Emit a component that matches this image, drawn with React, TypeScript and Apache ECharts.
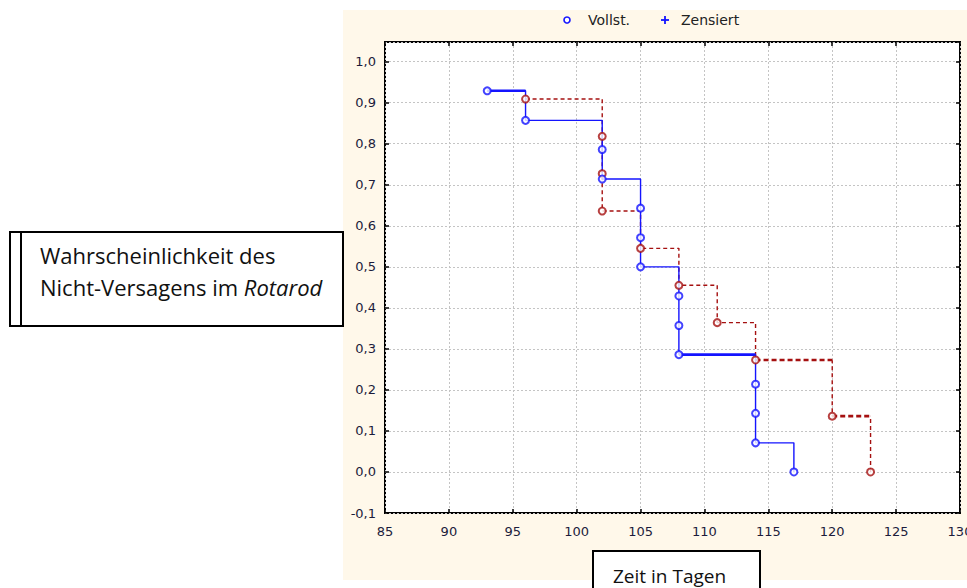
import React, { useEffect, useRef } from "react";
import * as echarts from "echarts";

// Kaplan-Meier data
const blueDays = [93, 96, 102, 102, 105, 105, 105, 108, 108, 108, 114, 114, 114, 117];
const blueSurv = [0.929, 0.857, 0.786, 0.714, 0.643, 0.571, 0.5, 0.429, 0.357, 0.286, 0.214, 0.143, 0.071, 0];
const redDays = [96, 102, 102, 102, 105, 108, 111, 114, 120, 123];
const redSurv = [0.909, 0.818, 0.727, 0.636, 0.545, 0.455, 0.364, 0.273, 0.136, 0];
// horizontal segments drawn heavier in the original (index of segment start)
const blueHeavy = [0, 9];
const redHeavy = [7, 8];

const xTicks = { min: 85, max: 130, interval: 5 };
const yTicks = { min: -0.1, max: 1.048, interval: 0.1 };
const legendLabels = ["Vollst.", "Zensiert"];
const yTitle = ["Wahrscheinlichkeit des", "Nicht-Versagens im ", "Rotarod"];
const xTitle = "Zeit in Tagen";

const BLUE = "#1414ff";
const RED = "#a51010";

function pairs(xs: number[], ys: number[]) {
  return xs.map((x, i) => [x, ys[i]]);
}
function segData(xs: number[], ys: number[], i: number) {
  return [
    [xs[i], ys[i]],
    [xs[i + 1], ys[i]],
  ];
}
function heavySeries(
  xs: number[],
  ys: number[],
  idx: number[],
  color: string,
  width: number,
  type: any,
  z: number
) {
  return idx.map((i) => ({
    type: "line",
    data: segData(xs, ys, i),
    symbol: "none",
    silent: true,
    z,
    lineStyle: { color, width, type },
  }));
}

const fmtY = (v: number) => {
  const r = Math.round(v * 10) / 10;
  if (Math.abs(v - r) > 1e-6 || r > 1.0001) return "";
  return (r === 0 ? 0 : r).toFixed(1).replace(".", ",");
};

export default function App() {
  const ref = useRef<HTMLDivElement>(null);
  useEffect(() => {
    if (!ref.current) return;
    const chart = echarts.init(ref.current, undefined, { renderer: "svg" });
    const labelFont = { fontFamily: "DejaVu Sans", fontSize: 13, color: "#1c1c3c" };
    const split = { show: true, lineStyle: { color: "#c4c4c4", width: 1, type: [2, 2] } };
    const tick = { show: true, inside: true, length: 4, lineStyle: { color: "#000", width: 1.5 } };
    const noLine = { show: false, onZero: false };
    chart.setOption({
      animation: false,
      backgroundColor: "#ffffff",
      grid: {
        left: 385,
        top: 42,
        right: 7,
        bottom: 75,
        show: true,
        backgroundColor: "#ffffff",
        borderColor: "#000000",
        borderWidth: 2,
        containLabel: false,
        outerBoundsMode: "none",
      },
      xAxis: [
        {
          type: "value",
          position: "bottom",
          ...xTicks,
          axisLine: noLine,
          axisTick: tick,
          splitLine: split,
          axisLabel: { ...labelFont, margin: 12, showMaxLabel: true, showMinLabel: true },
        },
        {
          type: "value",
          position: "top",
          ...xTicks,
          axisLine: noLine,
          axisTick: tick,
          splitLine: { show: false },
          axisLabel: { show: false },
        },
      ],
      yAxis: [
        {
          type: "value",
          position: "left",
          ...yTicks,
          axisLine: noLine,
          axisTick: tick,
          splitLine: split,
          axisLabel: { ...labelFont, margin: 9, formatter: fmtY, showMaxLabel: false },
        },
        {
          type: "value",
          position: "right",
          ...yTicks,
          axisLine: noLine,
          axisTick: tick,
          splitLine: { show: false },
          axisLabel: { show: false },
        },
      ],
      series: [
        {
          type: "line",
          name: "Gruppe 2",
          data: pairs(redDays, redSurv),
          step: "end",
          symbol: "none",
          z: 2,
          lineStyle: { color: RED, width: 1.4, type: [4, 3] },
        },
        // erase thin dashes under heavy red segments
        ...heavySeries(redDays, redSurv, redHeavy, "#ffffff", 2.2, "solid", 3),
        ...heavySeries(redDays, redSurv, redHeavy, RED, 2.6, [5, 3], 4),
        {
          type: "line",
          name: "Gruppe 1",
          data: pairs(blueDays, blueSurv),
          step: "end",
          symbol: "none",
          z: 5,
          lineStyle: { color: BLUE, width: 1.4 },
        },
        ...heavySeries(blueDays, blueSurv, blueHeavy, BLUE, 2.6, "solid", 6),
        {
          type: "scatter",
          data: pairs(redDays, redSurv),
          symbol: "circle",
          symbolSize: 7,
          z: 7,
          itemStyle: { color: "#ffffff", borderColor: RED, borderWidth: 2 },
        },
        {
          type: "scatter",
          data: pairs(blueDays, blueSurv),
          symbol: "circle",
          symbolSize: 7,
          z: 8,
          itemStyle: { color: "#ffffff", borderColor: BLUE, borderWidth: 2 },
        },
      ],
      graphic: [
        {
          type: "rect",
          z: -5,
          silent: true,
          shape: { x: 343, y: 10, width: 624, height: 570 },
          style: { fill: "#fff8ea" },
        },
        // legend
        {
          type: "circle",
          z: 10,
          shape: { cx: 567, cy: 20, r: 3 },
          style: { fill: "#ffffff", stroke: BLUE, lineWidth: 1.6 },
        },
        {
          type: "text",
          z: 10,
          x: 588,
          y: 20,
          style: {
            text: legendLabels[0],
            fontFamily: "DejaVu Sans",
            fontSize: 14,
            fill: "#222",
            verticalAlign: "middle",
          },
        },
        {
          type: "line",
          z: 10,
          shape: { x1: 661, y1: 20, x2: 669, y2: 20 },
          style: { stroke: BLUE, lineWidth: 1.8 },
        },
        {
          type: "line",
          z: 10,
          shape: { x1: 665, y1: 16, x2: 665, y2: 24 },
          style: { stroke: BLUE, lineWidth: 1.8 },
        },
        {
          type: "text",
          z: 10,
          x: 681,
          y: 20,
          style: {
            text: legendLabels[1],
            fontFamily: "DejaVu Sans",
            fontSize: 14,
            fill: "#222",
            verticalAlign: "middle",
          },
        },
        // y title box
        {
          type: "rect",
          z: 20,
          shape: { x: 10, y: 232, width: 333, height: 94 },
          style: { fill: "#ffffff", stroke: "#000", lineWidth: 2 },
        },
        {
          type: "line",
          z: 21,
          shape: { x1: 21, y1: 232, x2: 21, y2: 326 },
          style: { stroke: "#000", lineWidth: 2 },
        },
        {
          type: "text",
          z: 22,
          x: 40,
          y: 255,
          style: {
            text: yTitle[0],
            fontFamily: "Open Sans",
            fontSize: 22,
            fill: "#111",
            verticalAlign: "middle",
          },
        },
        {
          type: "text",
          z: 22,
          x: 40,
          y: 287,
          style: {
            text: "{a|" + yTitle[1] + "}{b|" + yTitle[2] + "}",
            fill: "#111",
            verticalAlign: "middle",
            rich: {
              a: { fontFamily: "Open Sans", fontSize: 22, fill: "#111" },
              b: { fontFamily: "Open Sans", fontSize: 22, fontStyle: "italic", fill: "#111" },
            },
          },
        },
        // x title box
        {
          type: "rect",
          z: 20,
          shape: { x: 593, y: 551, width: 167, height: 60 },
          style: { fill: "#ffffff", stroke: "#000", lineWidth: 2 },
        },
        {
          type: "text",
          z: 22,
          x: 613,
          y: 576,
          style: {
            text: xTitle,
            fontFamily: "Open Sans",
            fontSize: 19,
            lineHeight: 20,
            fill: "#111",
            verticalAlign: "middle",
          },
        },
      ],
    });
    return () => chart.dispose();
  }, []);
  return (
    <div
      ref={ref}
      style={{ position: "fixed", left: 0, top: 0, width: 967, height: 588 }}
    />
  );
}
